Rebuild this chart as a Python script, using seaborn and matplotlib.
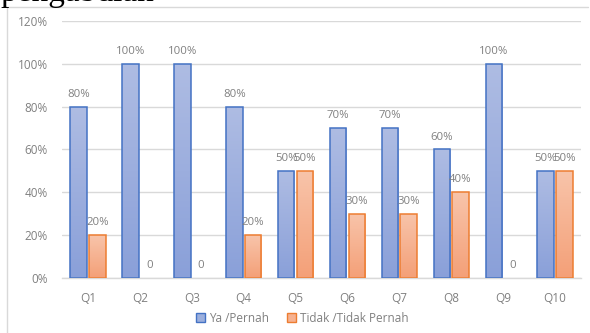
import numpy as np
import pandas as pd
import matplotlib
matplotlib.use("Agg")
import matplotlib.pyplot as plt
import seaborn as sns
from matplotlib.colors import LinearSegmentedColormap
from matplotlib.patches import Patch
from matplotlib.lines import Line2D

categories = ["Q1", "Q2", "Q3", "Q4", "Q5", "Q6", "Q7", "Q8", "Q9", "Q10"]
ya_pernah = [0.80, 1.00, 1.00, 0.80, 0.50, 0.70, 0.70, 0.60, 1.00, 0.50]
tidak_pernah = [0.20, 0.00, 0.00, 0.20, 0.50, 0.30, 0.30, 0.40, 0.00, 0.50]
series_names = ["Ya /Pernah", "Tidak /Tidak Pernah"]
yticks = [0, 0.2, 0.4, 0.6, 0.8, 1.0, 1.2]
ytick_labels = ["0%", "20%", "40%", "60%", "80%", "100%", "120%"]

df = pd.DataFrame({
    "cat": categories * 2,
    "val": ya_pernah + tidak_pernah,
    "series": [series_names[0]] * len(categories) + [series_names[1]] * len(categories),
})

edge_cols = {series_names[0]: "#4472c4", series_names[1]: "#ed7d31"}
grad_cols = {series_names[0]: ("#8aa0d9", "#aebce3"),
             series_names[1]: ("#f4a078", "#f8c4aa")}
mid_cols = {series_names[0]: "#9cafdd", series_names[1]: "#f6b291"}

sns.set_theme(style="white")
plt.rcParams["font.family"] = ["Open Sans", "DejaVu Sans"]

fig = plt.figure(figsize=(5.9, 3.33), dpi=100)
ax = fig.add_axes([62 / 590, 1 - 278 / 333, (581 - 62) / 590, (278 - 21) / 333])

sns.barplot(data=df, x="cat", y="val", hue="series", order=categories,
            hue_order=series_names, palette=[mid_cols[s] for s in series_names],
            saturation=1, width=0.72, legend=False, ax=ax, errorbar=None)

ax.set_ylim(0, 1.2)
ax.set_xlim(-0.5, len(categories) - 0.5)

patches = [p for p in ax.patches]
n = len(categories)
for i, p in enumerate(patches):
    s = series_names[i // n]
    x0, w = p.get_x(), p.get_width()
    nw = w * 0.88
    p.set_x(x0 + (w - nw) / 2)
    p.set_width(nw)
    h = p.get_height()
    if h <= 0:
        p.set_visible(False)
        continue
    p.set_facecolor("none")
    p.set_edgecolor(edge_cols[s])
    p.set_linewidth(1.1)
    p.set_zorder(3)
    cmap = LinearSegmentedColormap.from_list("g", list(grad_cols[s]))
    grad = np.linspace(0, 1, 64).reshape(-1, 1)
    im = ax.imshow(grad, cmap=cmap, aspect="auto", origin="lower",
                   extent=[p.get_x(), p.get_x() + p.get_width(), 0, h], zorder=2.5)
    im.set_clip_path(p)
ax.set_aspect("auto")
ax.set_xlim(-0.5, len(categories) - 0.5)
ax.set_ylim(0, 1.2)

for i, p in enumerate(patches):
    vals = ya_pernah if i < n else tidak_pernah
    v = vals[i % n]
    cx = p.get_x() + p.get_width() / 2
    txt = "0" if v == 0 else f"{int(round(v * 100))}%"
    ax.annotate(txt, (cx, v), xytext=(0, 5), textcoords="offset points",
                ha="center", va="bottom", fontsize=8.2, color="#808080", zorder=5)

ax.set_yticks(yticks)
ax.set_yticklabels(ytick_labels)
ax.tick_params(axis="y", length=0, pad=10, labelsize=8.5, labelcolor="#808080")
ax.tick_params(axis="x", length=0, pad=10, labelsize=8.5, labelcolor="#808080")
ax.set_xlabel("")
ax.set_ylabel("")
ax.grid(axis="y", color="#d9d9d9", linewidth=1)
ax.set_axisbelow(True)
for sp in ["top", "right", "left"]:
    ax.spines[sp].set_visible(False)
ax.spines["bottom"].set_color("#d9d9d9")
ax.spines["bottom"].set_linewidth(1)

handles = [Patch(facecolor=mid_cols[s], edgecolor=edge_cols[s], linewidth=1) for s in series_names]
fig.legend(handles, series_names, loc="center", bbox_to_anchor=(302 / 590, 1 - 318 / 333),
           ncol=2, frameon=False, fontsize=8.5, labelcolor="#808080",
           handlelength=0.8, handleheight=0.8, handletextpad=0.3, columnspacing=1.5)

fig.add_artist(Line2D([7 / 590, 7 / 590], [0, 1 - 7 / 333], color="#d9d9d9", linewidth=1,
                      transform=fig.transFigure))
fig.add_artist(Line2D([7 / 590, 588 / 590], [1 - 7 / 333, 1 - 7 / 333], color="#d9d9d9",
                      linewidth=1, transform=fig.transFigure))

fig.text(0.0, 1 - 1.5 / 333, "pengabdian", family=["Liberation Serif", "DejaVu Serif"],
         fontsize=24, color="black", ha="left", va="baseline")

fig.savefig("out.png", dpi=100)
